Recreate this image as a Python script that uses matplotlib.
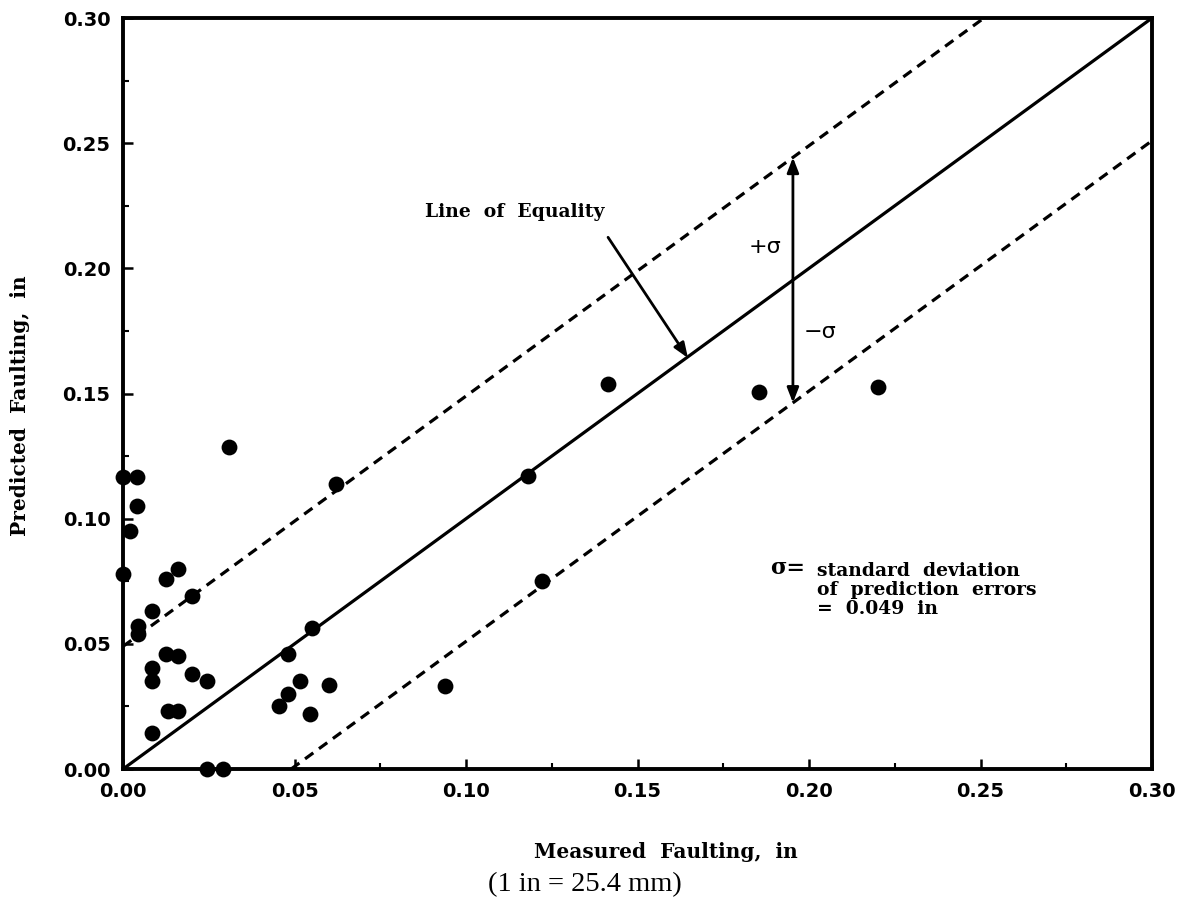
import matplotlib
matplotlib.use("Agg")
import matplotlib.pyplot as plt
from matplotlib.ticker import MultipleLocator, FormatStrFormatter

# Measured vs predicted faulting (in)
measured = [0.000, 0.004, 0.004, 0.002, 0.000, 0.031, 0.062, 0.016, 0.0125,
            0.020, 0.0085, 0.0045, 0.0045, 0.0125, 0.016, 0.0085, 0.0085,
            0.020, 0.0245, 0.013, 0.016, 0.0085, 0.0245, 0.029, 0.048,
            0.055, 0.0455, 0.048, 0.0515, 0.0545, 0.060, 0.094, 0.118,
            0.122, 0.1415, 0.1855, 0.220]
predicted = [0.1165, 0.1165, 0.105, 0.095, 0.078, 0.1285, 0.114, 0.080, 0.076,
             0.069, 0.063, 0.057, 0.054, 0.046, 0.045, 0.0405, 0.035,
             0.038, 0.035, 0.023, 0.023, 0.0145, 0.000, 0.000, 0.046,
             0.0565, 0.025, 0.030, 0.035, 0.022, 0.0335, 0.033, 0.117,
             0.075, 0.154, 0.1505, 0.1525]

sigma = 0.049
axis_max = 0.30

fig = plt.figure(figsize=(11.91, 9.14), dpi=100)
ax = fig.add_axes([0.1033, 0.1586, 0.864, 0.8217])

# line of equality and +/- one standard deviation bands
ax.plot([0, axis_max], [0, axis_max], color="black", lw=2.3, solid_capstyle="butt")
ax.plot([0, axis_max - sigma], [sigma, axis_max], color="black", lw=2.3,
        ls=(0, (3.2, 2.2)))
ax.plot([sigma, axis_max], [0, axis_max - sigma], color="black", lw=2.3,
        ls=(0, (3.2, 2.2)))

ax.scatter(measured, predicted, s=130, color="black", zorder=5, clip_on=False,
           linewidths=0)

ax.set_xlim(0, axis_max)
ax.set_ylim(0, axis_max)

for s in ax.spines.values():
    s.set_linewidth(2.8)

ax.xaxis.set_major_locator(MultipleLocator(0.05))
ax.yaxis.set_major_locator(MultipleLocator(0.05))
ax.xaxis.set_minor_locator(MultipleLocator(0.025))
ax.yaxis.set_minor_locator(MultipleLocator(0.025))
ax.xaxis.set_major_formatter(FormatStrFormatter("%.2f"))
ax.yaxis.set_major_formatter(FormatStrFormatter("%.2f"))
ax.tick_params(which="major", direction="in", length=7, width=1.8, pad=9,
               labelsize=14)
ax.tick_params(which="minor", direction="in", length=4, width=1.5)
for lab in ax.get_xticklabels() + ax.get_yticklabels():
    lab.set_fontweight("bold")
    lab.set_family("DejaVu Sans")

serif = "DejaVu Serif"
fig.text(0.559, 0.068, "Measured  Faulting,  in", fontsize=14.5,
         fontweight="bold", family=serif, ha="center", va="center")
fig.text(0.017, 0.556, "Predicted  Faulting,  in", fontsize=14.5,
         fontweight="bold", family=serif, ha="center", va="center",
         rotation=90)
fig.text(0.491, 0.032, "(1 in = 25.4 mm)", ha="center", va="center",
         fontsize=20.5, family="Liberation Serif")

# annotation for the line of equality
ax.text(0.1405, 0.2225, "Line  of  Equality", fontsize=13.5, fontweight="bold",
        family=serif, ha="right", va="center")
ax.annotate("", xy=(0.1647, 0.1642), xytext=(0.1414, 0.2124),
            arrowprops=dict(arrowstyle="-|>,head_length=0.9,head_width=0.35",
                            color="black", lw=2.0, shrinkA=0, shrinkB=0))

# +/- sigma double arrow
x_arrow = 0.1953
ax.annotate("", xy=(x_arrow, x_arrow + sigma), xytext=(x_arrow, x_arrow - sigma),
            arrowprops=dict(arrowstyle="<|-|>,head_length=0.9,head_width=0.35",
                            color="black", lw=2.0, shrinkA=0, shrinkB=0))
ax.text(0.192, 0.2085, "+σ", fontsize=16, family="DejaVu Sans", ha="right",
        va="center")
ax.text(0.1985, 0.1746, "−σ", fontsize=16, family="DejaVu Sans", ha="left",
        va="center")

# note on the standard deviation
ax.text(0.1886, 0.0803, "σ=", fontsize=16, fontweight="bold", family=serif,
        ha="left", va="center")
ax.text(0.2023, 0.0715,
        "standard  deviation\nof  prediction  errors\n=  %.3f  in" % sigma,
        fontsize=13.5, fontweight="bold", family=serif, ha="left", va="center",
        linespacing=1.05)

fig.savefig("out.png", dpi=100, facecolor="white")
